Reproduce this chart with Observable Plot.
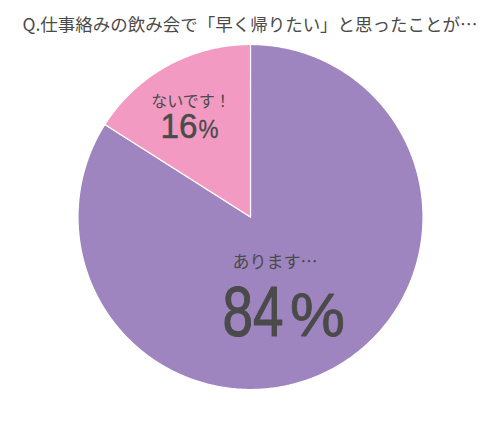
<!DOCTYPE html>
<html>
<head>
<meta charset="utf-8">
<script src="https://cdn.jsdelivr.net/npm/d3@7"></script>
<script src="https://cdn.jsdelivr.net/npm/@observablehq/plot@0.6"></script>
<style>
  html, body { margin: 0; padding: 0; background: #fff; }
  svg { display: block; }
</style>
</head>
<body>
<div id="chart"></div>
<script>
// ---- data ----
const title = "Q.仕事絡みの飲み会で「早く帰りたい」と思ったことが…";
const answers = ["あります…", "ないです！"];
const percents = [84, 16];
const colors = ["#9f85bf", "#f29ac2"];

// ---- build slices ----
const pie = d3.pie().sort(null).value(d => d.value);
const rows = answers.map((a, i) => ({key: a, value: percents[i]}));
const arcs = pie(rows);

const slicePts = [];
for (const a of arcs) {
  const n = Math.max(2, Math.ceil((a.endAngle - a.startAngle) / 0.01));
  slicePts.push({key: a.data.key, x: 0, y: 0});
  for (let k = 0; k <= n; k++) {
    const t = a.startAngle + (a.endAngle - a.startAngle) * k / n;
    slicePts.push({key: a.data.key, x: Math.sin(t), y: Math.cos(t)});
  }
  slicePts.push({key: a.data.key, x: 0, y: 0});
}

// label anchor positions from each slice's mid angle
const labelR = [0.5, 0.68];
const labels = arcs.map((a, i) => {
  const m = (a.startAngle + a.endAngle) / 2;
  return {key: a.data.key, pct: String(a.data.value), x: Math.sin(m) * labelR[i], y: Math.cos(m) * labelR[i]};
});

const big = [labels[0]], small = [labels[1]];
const numFont = "'Liberation Sans', 'Noto Sans', sans-serif";
const jpFont = "'Noto Sans CJK JP', sans-serif";
const ink = "#4a4a4a";

const chart = Plot.plot({
  width: 500,
  height: 431,
  marginLeft: 77.5,
  marginRight: 77.5,
  marginTop: 44,
  marginBottom: 42,
  x: {domain: [-1, 1], axis: null},
  y: {domain: [-1, 1], axis: null},
  color: {domain: answers, range: colors},
  marks: [
    Plot.line(slicePts, {x: "x", y: "y", z: "key", fill: "key", stroke: "#ffffff", strokeWidth: 1.2, curve: "linear"}),
    // title
    Plot.text([title], {frameAnchor: "top-left", text: d => d, dx: -55.5, dy: -19, fontSize: 17.3, fill: ink, fontFamily: jpFont, textAnchor: "start", lineAnchor: "middle"}),
    // big slice labels
    Plot.text(big, {x: "x", y: "y", text: "key", dx: -17, dy: -30, fontSize: 17, fill: ink, fontFamily: jpFont}),
    Plot.text(big, {x: "x", y: "y", text: "pct", dx: -8.6, dy: 43, fontSize: 70, fill: ink, stroke: ink, strokeWidth: 1.1, fontFamily: numFont, textAnchor: "end", lineAnchor: "bottom"}),
    Plot.text(big, {x: "x", y: "y", text: d => "%", dx: -2, dy: 43, fontSize: 62, fill: ink, stroke: ink, strokeWidth: 0.8, fontFamily: numFont, textAnchor: "start", lineAnchor: "bottom"}),
    // small slice labels
    Plot.text(small, {x: "x", y: "y", text: "key", dx: -3, dy: -12, fontSize: 16, fill: ink, fontFamily: jpFont}),
    Plot.text(small, {x: "x", y: "y", text: "pct", dx: 3.5, dy: 24, fontSize: 35, fill: ink, stroke: ink, strokeWidth: 0.5, fontFamily: numFont, textAnchor: "end", lineAnchor: "bottom"}),
    Plot.text(small, {x: "x", y: "y", text: d => "%", dx: 4.5, dy: 24, fontSize: 25, fill: ink, stroke: ink, strokeWidth: 0.3, fontFamily: numFont, textAnchor: "start", lineAnchor: "bottom"})
  ]
});

// condense the numeric labels to match the narrow face of the original
const lengths = {0: 455, 2: 61, 3: 55, 5: 37, 6: 20};
d3.select(chart).selectAll("g[aria-label='text']").each(function(_, i) {
  if (lengths[i] != null) {
    d3.select(this).selectAll("text")
      .attr("textLength", lengths[i])
      .attr("lengthAdjust", "spacingAndGlyphs");
  }
});
document.getElementById("chart").appendChild(chart);
</script>
</body>
</html>
